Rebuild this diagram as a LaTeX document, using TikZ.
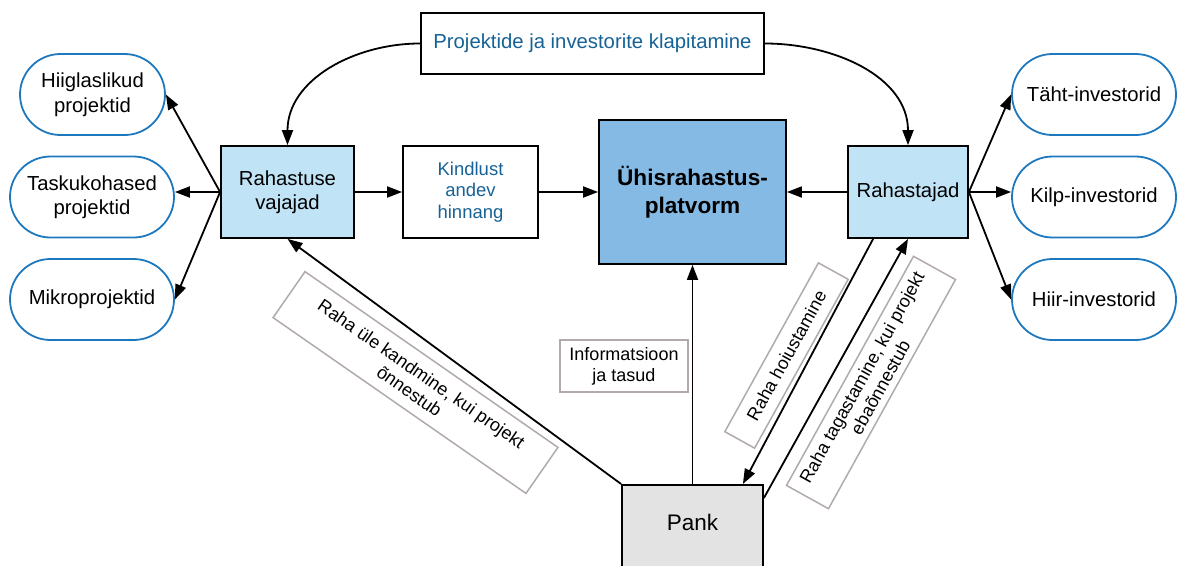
\documentclass[tikz,border=0pt]{standalone}
\usepackage{fontspec}
\setmainfont{Liberation Sans}
\usetikzlibrary{arrows.meta,shapes.misc}

\definecolor{lightblue}{RGB}{193,227,246}
\definecolor{midblue}{RGB}{132,186,227}
\definecolor{textblue}{RGB}{22,98,150}
\definecolor{edgeblue}{RGB}{30,120,190}
\definecolor{pankgray}{RGB}{227,227,227}
\definecolor{labelgray}{RGB}{178,170,170}

\tikzstyle{plainbox} = [draw, line width=1.8pt, align=center, inner sep=0pt, font=\fontsize{20.3}{23.5}\selectfont]
\tikzstyle{actor} = [plainbox, fill=lightblue, minimum width=133pt, minimum height=92pt]
\tikzstyle{group} = [draw=edgeblue, line width=1.8pt, rounded rectangle, inner sep=0pt, minimum width=164pt, minimum height=81pt, align=center, font=\fontsize{20.3}{24.5}\selectfont]
\tikzstyle{flowlabel} = [draw=labelgray, line width=1.5pt, inner sep=0pt, align=center, font=\fontsize{18}{21}\selectfont]
\tikzstyle{flow} = [line width=1.8pt, -{Triangle[length=15pt,width=11pt]}]

\begin{document}
\begin{tikzpicture}[x=1pt,y=-1pt]
		\useasboundingbox (0,0) rectangle (1178,565);
		\clip (0,0) rectangle (1178,565);
		\node[plainbox, text=textblue, minimum width=343pt, minimum height=61pt] (klapp) at (592.5,43.5) {Projektide ja investorite klapitamine};
		\node[group, minimum width=145pt] (hiig) at (92.5,94.5) {Hiiglaslikud\\projektid};
		\node[group] (tasku) at (92,197) {Taskukohased\\projektid};
		\node[group] (mikro) at (92,299.5) {Mikroprojektid};
		\node[actor] (vajajad) at (287.5,192) {Rahastuse\\vajajad};
		\node[plainbox, text=textblue, minimum width=135pt, minimum height=92pt, font=\fontsize{18.5}{21.5}\selectfont] (hinnang) at (470.5,192) {Kindlust\\andev\\hinnang};
		\node[plainbox, fill=midblue, minimum width=187pt, minimum height=144pt, font=\bfseries\fontsize{22.6}{27.5}\selectfont] (platvorm) at (692.5,192) {Ühisrahastus-\\platvorm};
		\node[actor, minimum width=120pt] (rahastajad) at (908,192) {Rahastajad};
		\node[group] (taht) at (1094,94.5) {Täht-investorid};
		\node[group] (kilp) at (1094,197) {Kilp-investorid};
		\node[group] (hiir) at (1094,299.5) {Hiir-investorid};
		\node[plainbox, fill=pankgray, minimum width=141pt, minimum height=150pt, anchor=north] (pank) at (692.5,484) {};
		\node[font=\fontsize{22.5}{26}\selectfont] (pankname) at (692.5,522) {Pank};
		\node[flowlabel, minimum width=128pt, minimum height=52pt] (info) at (624,366) {Informatsioon\\ja tasud};
		\node[flowlabel, rotate=-34.8, minimum width=308pt, minimum height=56pt] (ylekanne) at (415.5,382.5) {Raha üle kandmine, kui projekt\\õnnestub};
		\node[flowlabel, rotate=61, minimum width=193pt, minimum height=34pt] (hoius) at (786.5,355.5) {Raha hoiustamine};
		\node[flowlabel, rotate=61, minimum width=262pt, minimum height=48pt] (tagastus) at (871,382.5) {Raha tagastamine, kui projekt\\ebaõnnestub};
		\draw[flow] (klapp.west) to[out=180,in=90] (vajajad.north);
		\draw[flow] (klapp.east) to[out=0,in=90] (rahastajad.north);
		\draw[flow] (vajajad.west) -- (hiig.east);
		\draw[flow] (vajajad.west) -- (tasku.east |- vajajad.west);
		\draw[flow] (vajajad.west) -- (mikro.east);
		\draw[flow] (rahastajad.east) -- (taht.west);
		\draw[flow] (rahastajad.east) -- (kilp.west |- rahastajad.east);
		\draw[flow] (rahastajad.east) -- (hiir.west);
		\draw[flow] (vajajad.east) -- (hinnang.west);
		\draw[flow] (hinnang.east) -- (platvorm.west);
		\draw[flow] (rahastajad.west) -- (platvorm.east);
		\draw[flow] (pank.north west) -- (vajajad.south);
		\draw[flow] (pank.north) -- (platvorm.south);
		\draw[flow] ([xshift=26pt]rahastajad.south west) -- ([xshift=-21pt]pank.north east);
		\draw[flow] ([yshift=-14pt]pank.north east) -- (rahastajad.south);
		\end{tikzpicture}
\end{document}
